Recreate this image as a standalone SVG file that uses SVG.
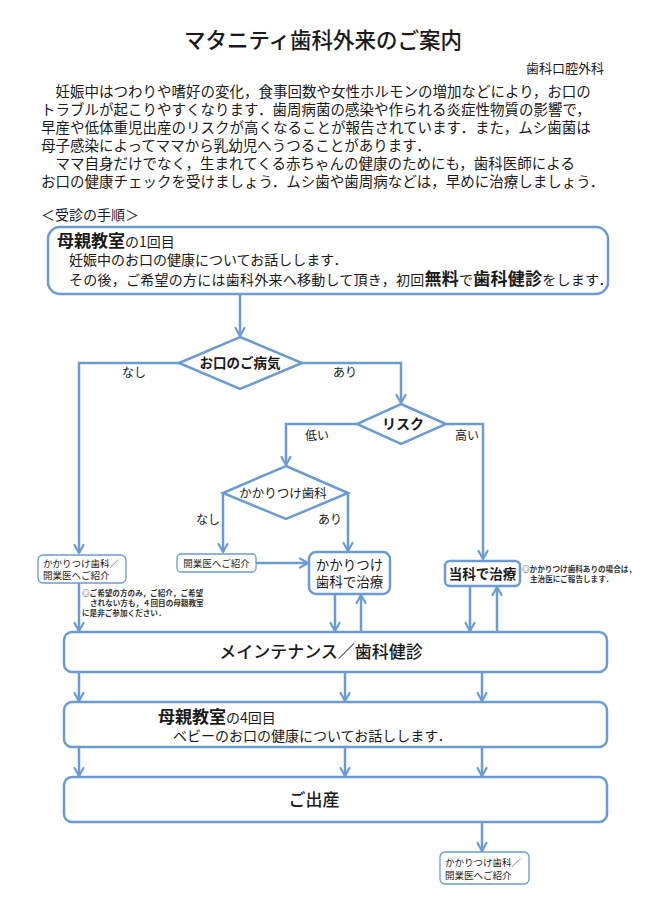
<svg xmlns="http://www.w3.org/2000/svg" width="650" height="910" viewBox="0 0 650 910">
<style>
.t{font-family:"Noto Sans CJK JP","Noto Sans CJK SC",sans-serif;fill:#1a1a1a}
.b{font-weight:bold}
.box{fill:#fff;stroke:#6b9bd3;stroke-width:2.5}
.thin{fill:#fff;stroke:#6b9bd3;stroke-width:1.3}
.conn{fill:none;stroke:#6b9bd3;stroke-width:2.5;marker-end:url(#arr)}
.p{font-size:14.5px}
.lab{font-size:12px}
.sm{font-size:9.5px}
.note{font-size:7.6px;font-weight:bold;fill:#333}
</style>
<defs>
<marker id="arr" viewBox="0 0 12 12" refX="10" refY="6" markerWidth="12" markerHeight="12" markerUnits="userSpaceOnUse" orient="auto">
<path d="M2,1.5 L10,6 L2,10.5" fill="none" stroke="#6b9bd3" stroke-width="2.2" stroke-linecap="round" stroke-linejoin="round"/>
</marker>
</defs>
<rect width="650" height="910" fill="#fff"/>

<g id="header">
<text class="t" x="323" y="48" font-size="21.5" font-weight="500" text-anchor="middle">マタニティ歯科外来のご案内</text>
<text class="t" x="604" y="73" font-size="13" text-anchor="end">歯科口腔外科</text>
<text class="t p" x="55.5" y="97">妊娠中はつわりや嗜好の変化，食事回数や女性ホルモンの増加などにより，お口の</text>
<text class="t p" x="41" y="115">トラブルが起こりやすくなります．歯周病菌の感染や作られる炎症性物質の影響で，</text>
<text class="t p" x="41" y="133">早産や低体重児出産のリスクが高くなることが報告されています．また，ムシ歯菌は</text>
<text class="t p" x="41" y="151">母子感染によってママから乳幼児へうつることがあります．</text>
<text class="t p" x="55.5" y="169">ママ自身だけでなく，生まれてくる赤ちゃんの健康のためにも，歯科医師による</text>
<text class="t p" x="41" y="187">お口の健康チェックを受けましょう．ムシ歯や歯周病などは，早めに治療しましょう．</text>
<text class="t" x="41" y="220" font-size="14">＜受診の手順＞</text>
</g>

<g id="connectors">
<path class="conn" d="M240,294 V336"/>
<path class="conn" d="M179,363 H79 V553"/>
<path class="conn" d="M302,363 H401 V403"/>
<path class="conn" d="M357,424 H286 V465"/>
<path class="conn" d="M446,424 H483 V559"/>
<path class="conn" d="M223,493 V552"/>
<path class="conn" d="M348,493 V551"/>
<path class="conn" d="M256,563 H308"/>
<path class="conn" d="M335,594 V631"/>
<path class="conn" d="M361,632 V595"/>
<path class="conn" d="M470,586 V631"/>
<path class="conn" d="M497,632 V587"/>
<path class="conn" d="M79,583 V631"/>
<path class="conn" d="M79,672 V701"/>
<path class="conn" d="M345,672 V701"/>
<path class="conn" d="M482,672 V701"/>
<path class="conn" d="M79,747 V776"/>
<path class="conn" d="M345,747 V776"/>
<path class="conn" d="M482,747 V776"/>
<path class="conn" d="M482,822 V851"/>
<text class="t lab" x="122" y="377">なし</text>
<text class="t lab" x="333" y="377">あり</text>
<text class="t lab" x="305" y="440">低い</text>
<text class="t lab" x="455" y="440">高い</text>
<text class="t lab" x="196" y="524">なし</text>
<text class="t lab" x="318" y="524">あり</text>
</g>

<g id="class1">
<rect class="box" x="48" y="227" width="560" height="67" rx="12"/>
<text class="t" x="57" y="247"><tspan class="b" font-size="17">母親教室</tspan><tspan font-size="14">の1回目</tspan></text>
<text class="t" x="69" y="265" font-size="14">妊娠中のお口の健康についてお話しします．</text>
<text class="t" x="69" y="285" font-size="14" letter-spacing="0.25">その後，ご希望の方には歯科外来へ移動して頂き，初回<tspan class="b" font-size="17">無料</tspan>で<tspan class="b" font-size="17">歯科健診</tspan>をします．</text>
</g>

<g id="disease">
<polygon class="box" points="240,337 302,363 240,389 179,363"/>
<text class="t b" x="240" y="368" font-size="13.5" text-anchor="middle">お口のご病気</text>
</g>

<g id="risk">
<polygon class="box" points="401,404 446,424 401,444 357,424"/>
<text class="t b" x="403" y="429" font-size="14" text-anchor="middle">リスク</text>
</g>

<g id="family-dentist">
<polygon class="box" points="286,466 348,493 286,519 223,493"/>
<text class="t" x="283" y="497.5" font-size="12.5" text-anchor="middle">かかりつけ歯科</text>
</g>

<g id="refer-left">
<rect class="thin" x="38" y="555" width="88" height="28" rx="5"/>
<text class="t sm" x="43" y="567">かかりつけ歯科／</text>
<text class="t sm" x="43" y="579">開業医へご紹介</text>
</g>

<g id="note-left">
<text class="t note" x="82" y="596">◎ご希望の方のみ，ご紹介，ご希望</text>
<text class="t note" x="90" y="606">されない方も，４回目の母親教室</text>
<text class="t note" x="82" y="616">に是非ご参加ください．</text>
</g>

<g id="refer-mid">
<rect class="thin" x="177" y="554" width="79" height="18" rx="4"/>
<text class="t sm" x="216.5" y="566.5" text-anchor="middle">開業医へご紹介</text>
</g>

<g id="treat-family">
<rect class="box" x="309" y="552" width="81" height="42" rx="7"/>
<text class="t" x="349.5" y="570" font-size="13.5" text-anchor="middle">かかりつけ</text>
<text class="t" x="349.5" y="587" font-size="13.5" text-anchor="middle">歯科で治療</text>
</g>

<g id="treat-here">
<rect class="box" x="445" y="561" width="75" height="25" rx="5"/>
<text class="t b" x="482.5" y="578.5" font-size="13.5" text-anchor="middle">当科で治療</text>
</g>

<g id="note-right">
<text class="t note" x="522" y="572">◎かかりつけ歯科ありの場合は，</text>
<text class="t note" x="530" y="582">主治医にご報告します．</text>
</g>

<g id="maintenance">
<rect class="box" x="64" y="632" width="543" height="40" rx="8"/>
<text class="t" x="321" y="658" font-size="17" font-weight="500" text-anchor="middle">メインテナンス／歯科健診</text>
</g>

<g id="class4">
<rect class="box" x="64" y="702" width="543" height="45" rx="8"/>
<text class="t" x="158" y="723"><tspan class="b" font-size="17">母親教室</tspan><tspan font-size="14">の4回目</tspan></text>
<text class="t" x="173" y="741" font-size="14">ベビーのお口の健康についてお話しします．</text>
</g>

<g id="birth">
<rect class="box" x="64" y="777" width="543" height="45" rx="8"/>
<text class="t" x="314" y="806" font-size="17" font-weight="500" text-anchor="middle">ご出産</text>
</g>

<g id="refer-bottom">
<rect class="thin" x="440" y="852" width="89" height="32" rx="5"/>
<text class="t sm" x="445" y="866">かかりつけ歯科／</text>
<text class="t sm" x="445" y="879">開業医へご紹介</text>
</g>
</svg>
